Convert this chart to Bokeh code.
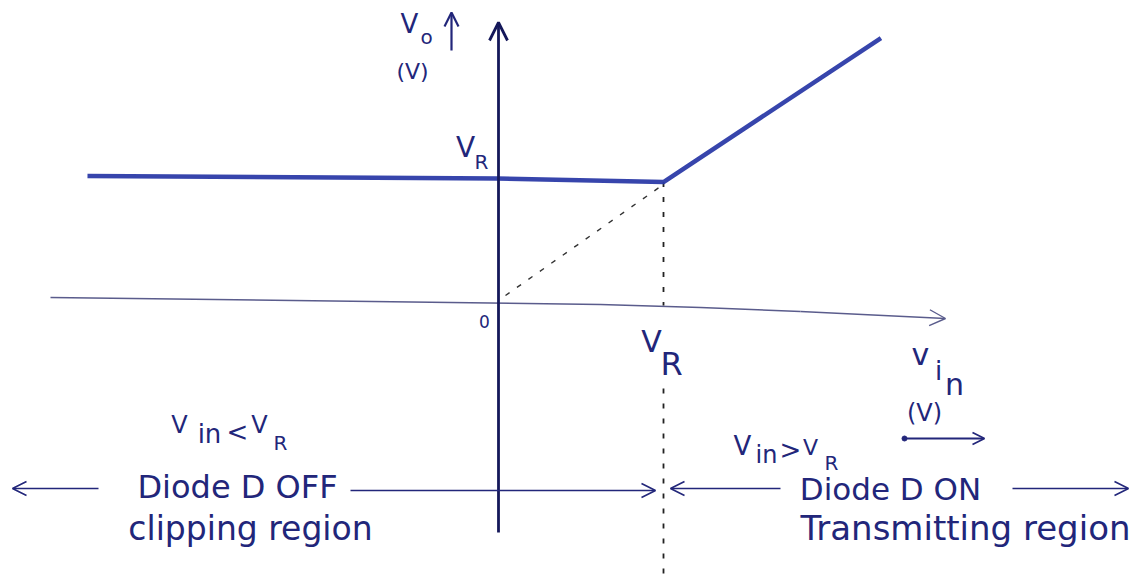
from bokeh.plotting import figure
from bokeh.models import Range1d, Arrow, OpenHead
from bokeh.core.properties import value
from bokeh.embed import file_html
from bokeh.resources import INLINE

# Transfer characteristic of the clipper (V_R = 1 unit)
VR = 1.0
vin = [-2.47, 0.0, 1.0, 2.31]
vo = [1.02, 1.0, 0.97, 2.17]

# Drawing scale: page pixels per volt and origin position on the page
W, H = 1141, 578
X0, Y0 = 497, 298
SX, SY = 166, 120


def P(px, py):
    """Page position (pixels from top-left) -> data coordinates."""
    return (px - X0) / SX, (Y0 - py) / SY


p = figure(width=W, height=H, output_backend="svg", toolbar_location=None,
           x_range=Range1d(-X0 / SX, (W - X0) / SX),
           y_range=Range1d((Y0 - H) / SY, Y0 / SY),
           min_border=0)
p.axis.visible = False
p.grid.visible = False
p.outline_line_color = None
p.background_fill_color = "white"
p.border_fill_color = "white"

INK = "#22267a"
AXIS = "#15185a"
FONT = value("DejaVu Sans")


def arrow(a, b, color=INK, width=1.6, size=14, dash="solid"):
    (x1, y1), (x2, y2) = P(*a), P(*b)
    p.add_layout(Arrow(end=OpenHead(size=size, line_color=color, line_width=width),
                       x_start=x1, y_start=y1, x_end=x2, y_end=y2,
                       line_color=color, line_width=width, line_dash=dash))


def seg(pts, color, width, dash="solid"):
    xy = [P(*q) for q in pts]
    p.line([q[0] for q in xy], [q[1] for q in xy], line_color=color,
           line_width=width, line_dash=dash, line_join="round")


def txt(s, pos, size=24, color=INK):
    # pos = (centre x, bottom of the capitals) on the page; the SVG text
    # anchor sits a little above the glyph bottom, hence the 0.36 em lift
    x, y = P(pos[0], pos[1] - 0.36 * size)
    p.text([x], [y], text=[s], text_font=FONT, text_font_size=f"{size}px",
           text_color=color, text_align="center", text_baseline="alphabetic")


# axes
arrow((498, 532), (498, 22), color=AXIS, width=2.8, size=18)
seg([(50, 297), (450, 302), (600, 304), (700, 307), (800, 311)], "#5a5c8c", 1.4)
arrow((800, 311), (945, 318), color="#5a5c8c", width=1.4, size=16)

# guide lines to the break point
seg([(505, 295), (660, 186)], "#333333", 1.4, "5 9")
xb, yb = VR, vo[2]
p.line([xb, xb], [yb, P(0, 305)[1]], line_color="#222222", line_width=1.8, line_dash="5 10")
p.line([xb, xb], [P(0, 388)[1], P(0, 576)[1]], line_color="#222222", line_width=1.8,
       line_dash="5 10")

# transfer curve
p.line(vin, vo, line_color="#2c3ba8", line_width=4.5, line_alpha=0.95, line_join="round")

# axis labels
txt("V", (409, 33), 26)
txt("o", (426, 44), 20)
arrow((451, 50), (451, 12), color=INK, width=2.2, size=14)
txt("(V)", (412, 79), 22)
txt("V", (465, 157), 28)
txt("R", (481, 169), 20)
txt("0", (484, 327), 17)
txt("V", (651, 352), 30)
txt("R", (671, 375), 32)
txt("v", (920, 365), 30)
txt("i", (938, 380), 26)
txt("n", (954, 395), 30)
txt("(V)", (924, 421), 24)
p.scatter([P(904, 438)[0]], [P(904, 438)[1]], size=5, color=INK)
arrow((904, 438), (984, 438), width=1.8, size=12)

# regions
txt("V", (179, 433), 24)
txt("in", (209, 443), 26)
txt("<", (237, 441), 26)
txt("V", (259, 433), 24)
txt("R", (280, 450), 20)
txt("Diode D OFF", (237, 498), 32)
txt("clipping region", (250, 540), 33)
arrow((98, 488), (12, 488), size=14)
arrow((350, 490), (655, 490), size=14)

txt("V", (742, 455), 26)
txt("in", (766, 463), 24)
txt(">", (790, 459), 26)
txt("V", (810, 455), 22)
txt("R", (831, 470), 20)
txt("Diode D ON", (890, 500), 31)
txt("Transmitting region", (965, 540), 34)
arrow((780, 488), (670, 488), size=14)
arrow((1012, 488), (1128, 488), size=14)

open("out.html", "w").write(file_html(p, INLINE))
